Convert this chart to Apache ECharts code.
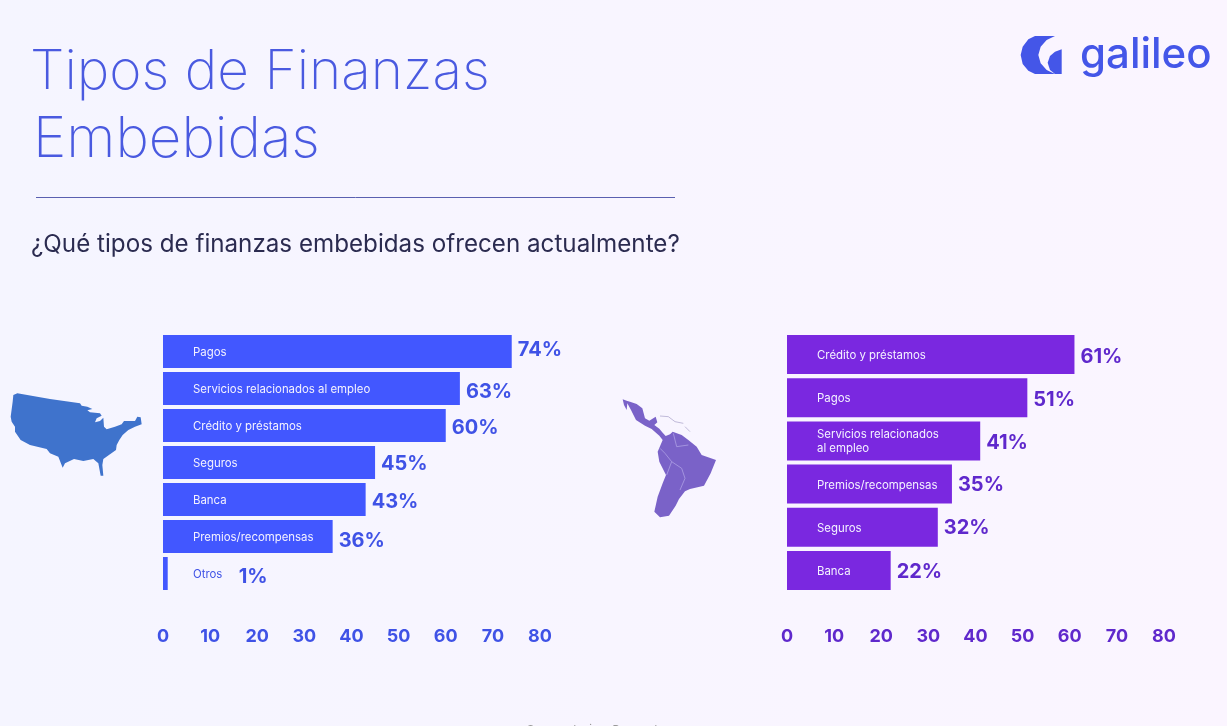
<!DOCTYPE html>
<html><head><meta charset="utf-8">
<style>html,body{margin:0;padding:0;width:1227px;height:726px;overflow:hidden;background:#f7f5ff}#c{width:1227px;height:726px}</style>
<script src="https://cdn.jsdelivr.net/npm/echarts@6/dist/echarts.min.js"></script>
</head><body><div id="c"></div>
<script>
const usCategories = ['Pagos','Servicios relacionados al empleo','Crédito y préstamos','Seguros','Banca','Premios/recompensas','Otros'];
const usValues = [74,63,60,45,43,36,1];
const latamCategories = ['Crédito y préstamos','Pagos','Servicios relacionados\nal empleo','Premios/recompensas','Seguros','Banca'];
const latamValues = [61,51,41,35,32,22];
const usLabelNudge = [-1.5,3,2,1,2,4,3];
const latamLabelNudge = [2,2,2.5,1,1,2];
const axisTicks = [0,80,10];
const titleLines = ['Tipos de Finanzas','Embebidas'];
const question = '¿Qué tipos de finanzas embebidas ofrecen actualmente?';
const sourceNote = 'Source: Juniper Research';

const FONT = 'Inter, "Noto Sans", sans-serif';
const usOutline = [[40,30],[52,25],[150,42],[240,55],[245,62],[262,65],[277,72],[262,76],[270,82],[300,85],[305,92],[290,100],[285,112],[300,108],[310,98],[312,125],[320,133],[345,125],[365,118],[372,108],[405,108],[412,95],[422,97],[425,118],[405,125],[385,135],[368,150],[358,165],[350,180],[348,195],[330,208],[310,222],[307,240],[310,272],[302,272],[295,235],[280,222],[250,228],[222,222],[195,235],[188,248],[175,215],[150,205],[140,192],[90,180],[62,165],[45,140],[45,125],[35,110],[32,95],[38,50]];
const latamOutline = [[38,28],[50,32],[60,35],[80,42],[97,55],[105,85],[118,92],[137,80],[142,97],[133,105],[148,116],[158,128],[167,138],[180,133],[188,125],[215,135],[235,150],[260,170],[275,195],[318,210],[302,250],[282,287],[240,297],[225,304],[207,327],[197,347],[177,377],[150,382],[133,365],[143,320],[158,280],[168,255],[148,215],[143,185],[158,150],[148,137],[125,117],[105,107],[78,90],[63,60],[52,40],[50,60],[42,45]];
const latamBorders = [[[170,255],[185,215],[215,235],[225,265],[210,300]],[[185,215],[165,190],[150,175]],[[190,130],[200,170],[235,165]]];
const caribbean = [[[150,78],[175,80],[195,95],[220,100]],[[225,110],[240,125]]];
const logoCrescent = [[165,48],[105,48],[85,58],[68,80],[62,105],[68,132],[85,152],[105,162],[165,162],[140,150],[122,130],[115,105],[122,80],[140,60]];
const logoWedge = [[185,88],[185,162],[165,162],[150,150],[143,128],[150,108],[165,95]];
const scale = (pts,ox,oy) => pts.map(p => [ox + p[0]/3, oy + p[1]/3]);

function panel(gridIdx, cats, vals, nudges, barColor, labelColor, barWidth){
  return [{
    type:'bar', xAxisIndex:gridIdx, yAxisIndex:gridIdx, barWidth, barGap:'-100%',
    data: vals.map((v,i)=>({value:v, name:cats[i],
      label: v < 5 ? {color:labelColor} : undefined})),
    itemStyle:{color:barColor},
    label:{show:true, position:'insideLeft', distance:30, offset:[0,1], formatter:'{b}', color:'#F4F2FF', fontFamily:FONT, fontSize:11.4, lineHeight:14},
    silent:true, z:2
  },{
    type:'bar', xAxisIndex:gridIdx, yAxisIndex:gridIdx, barWidth, barGap:'-100%',
    data: vals.map((v,i)=>({value:v,
      label:{offset:[v < 5 ? 65 : 0, nudges[i]]}})),
    itemStyle:{color:'rgba(0,0,0,0)'},
    label:{show:true, position:'right', distance:6, formatter:'{c}%', color:labelColor, fontFamily:FONT, fontWeight:700, fontSize:20},
    silent:true, z:3
  }];
}
function xAxis(gridIndex,color){
  return {type:'value', gridIndex, min:axisTicks[0], max:axisTicks[1], interval:axisTicks[2],
    axisLine:{show:false}, axisTick:{show:false}, splitLine:{show:false},
    axisLabel:{color, fontFamily:FONT, fontWeight:700, fontSize:18, margin:36}};
}
function yAxis(gridIndex,cats){
  return {type:'category', gridIndex, data:cats, inverse:true, show:false};
}
const BLUE='#4257FF', BLUE_T='#3F52E6', PURPLE='#7A28E0', PURPLE_T='#5F28CC';

const chart = echarts.init(document.getElementById('c'),null,{renderer:'canvas'});
chart.setOption({
  animation:false,
  backgroundColor:{type:'linear',x:0,y:0,x2:1,y2:0,colorStops:[{offset:0,color:'#F5F5FF'},{offset:1,color:'#FBF5FF'}]},
  title:[
    {text:titleLines[0],left:25,top:40,textStyle:{color:'#4A5AE0',fontFamily:'Inter',fontWeight:200,fontSize:55}},
    {text:titleLines[1],left:28,top:107,textStyle:{color:'#4A5AE0',fontFamily:'Inter',fontWeight:200,fontSize:56.5}},
    {text:question,left:26,top:228,textStyle:{color:'#2B2B50',fontFamily:FONT,fontWeight:400,fontSize:24.2}},
    {text:sourceNote,left:522,top:719,textStyle:{color:'#999',fontFamily:FONT,fontWeight:400,fontSize:11}},
    {text:'galileo',left:1075,top:29,textStyle:{color:'#4456E8',fontFamily:FONT,fontWeight:500,fontSize:42}}
  ],
  grid:[
    {left:163,top:333,width:377,height:259},
    {left:787,top:333,width:377,height:259}
  ],
  xAxis:[xAxis(0,BLUE_T),xAxis(1,PURPLE_T)],
  yAxis:[yAxis(0,usCategories),yAxis(1,latamCategories)],
  series:[
    ...panel(0,usCategories,usValues,usLabelNudge,BLUE,BLUE_T,33),
    ...panel(1,latamCategories,latamValues,latamLabelNudge,PURPLE,PURPLE_T,39)
  ],
  graphic:[
    {type:'line',shape:{x1:36,y1:197.5,x2:675,y2:197.5},style:{stroke:'#5A60B0',lineWidth:1}},
    {type:'polygon',shape:{points:scale(usOutline,0,385)},style:{fill:'#3F73CC'}},
    {type:'polygon',shape:{points:scale(latamOutline,610,390)},style:{fill:'#7A62C8'}},
    ...latamBorders.map(b=>({type:'polyline',shape:{points:scale(b,610,390)},style:{stroke:'#B5A8E8',lineWidth:0.7,fill:null}})),
    ...caribbean.map(b=>({type:'polyline',shape:{points:scale(b,610,390)},style:{stroke:'#A8A0C8',lineWidth:0.7,fill:null}})),
    {type:'polygon',shape:{points:scale(logoCrescent,1000,20)},style:{fill:'#4456E8'}},
    {type:'polygon',shape:{points:scale(logoWedge,1000,20)},style:{fill:'#4456E8'}}
  ]
});
</script></body></html>
